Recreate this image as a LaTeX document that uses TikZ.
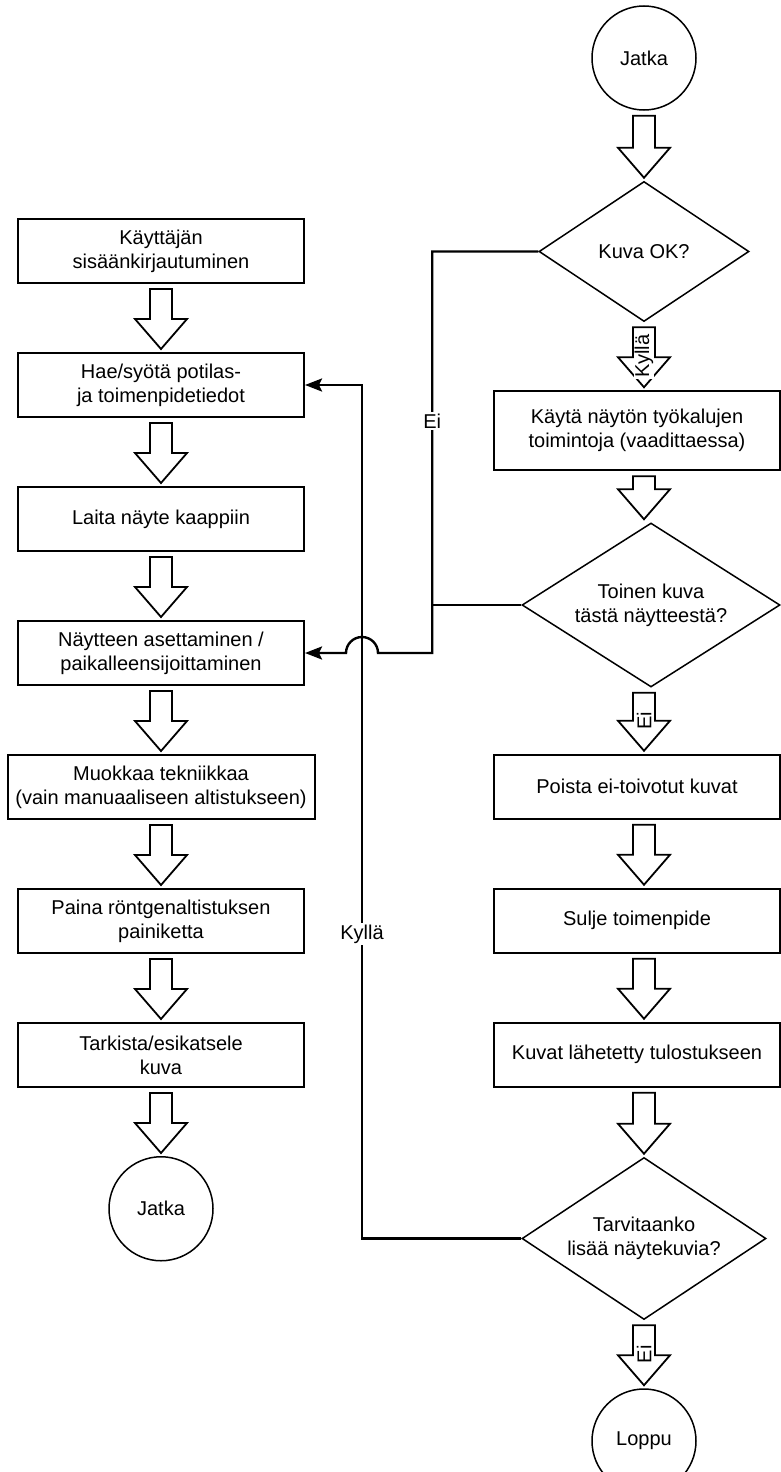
\documentclass[tikz,border=0pt]{standalone}
\usepackage{fontspec}
\setmainfont{Liberation Sans}
\usetikzlibrary{arrows.meta,positioning,calc,shapes.geometric}
\tikzset{
  stepbox/.style={draw=black, line width=2pt, align=center, inner sep=2pt, minimum width=286pt, minimum height=64pt},
  decision/.style={draw=black, diamond, line width=1.5pt, align=center, inner sep=0pt, aspect=1.5},
  terminal/.style={draw=black, circle, line width=1.5pt, minimum size=104pt, inner sep=0pt},
  flowline/.style={line width=2.4pt},
  flowarrow/.style={flowline, -{Stealth[length=17pt,width=13pt,inset=3pt]}},
  hollow/.style={draw=black, fill=white, line width=1.8pt, line join=miter},
  edgelabel/.style={fill=white, inner sep=2pt},
  arrowlabel/.style={fill=white, inner sep=1pt, rotate=90}
}
% hollow block arrow: from, to, axis, label
\newcommand{\hollowarrow}[4]{%
  \draw[hollow] ($(#1.south -| #3)+(-11,5)$) -- ($(#2.north -| #3)+(-11,-33)$)
    -- ($(#2.north -| #3)+(-26,-33)$) -- ($(#2.north -| #3)+(0,-3)$)
    -- ($(#2.north -| #3)+(26,-33)$) -- ($(#2.north -| #3)+(11,-33)$)
    -- ($(#1.south -| #3)+(11,5)$) -- cycle;
  \if\relax\detokenize{#4}\relax\else
    \node[arrowlabel] (#1-#2) at ($(#1.south -| #3)!0.5!(#2.north -| #3)$) {#4};
  \fi}

\begin{document}
\begin{tikzpicture}[x=1pt, y=-1pt, node distance=68pt, font=\fontsize{20}{24}\selectfont]
\useasboundingbox (0,0) rectangle (780,1472);
\coordinate (axisL) at (161,0);
\coordinate (axisR) at (644,0);
% left column
\node[stepbox] (login) at (161,251) {Käyttäjän\\sisäänkirjautuminen};
\node[stepbox, below=of login] (hae) {Hae/syötä potilas-\\ja toimenpidetiedot};
\node[stepbox, below=of hae] (kaappi) {Laita näyte kaappiin};
\node[stepbox, below=of kaappi] (naytteen) {Näytteen asettaminen /\\paikalleensijoittaminen};
\node[stepbox, below=of naytteen, minimum width=307pt] (muokkaa) {Muokkaa tekniikkaa\\(vain manuaaliseen altistukseen)};
\node[stepbox, below=of muokkaa] (paina) {Paina röntgenaltistuksen\\painiketta};
\node[stepbox, below=of paina] (tarkista) {Tarkista/esikatsele\\kuva};
\node[terminal, below=of tarkista] (jatkaL) {Jatka};
% right column
\node[terminal] (jatkaR) at (644,58) {Jatka};
\node[decision, below=70pt of jatkaR, minimum width=210pt, minimum height=140pt] (kuvaok) {Kuva OK?};
\node[stepbox, below=68pt of kuvaok, xshift=-7pt, minimum height=79pt] (kayta) {Käytä näytön työkalujen\\toimintoja (vaadittaessa)};
\node[decision, below=51pt of kayta, xshift=14pt, minimum width=258pt, minimum height=164pt] (toinen) {Toinen kuva\\tästä näytteestä?};
\node[stepbox, below=66pt of toinen, xshift=-14pt] (poista) {Poista ei-toivotut kuvat};
\node[stepbox, below=of poista] (sulje) {Sulje toimenpide};
\node[stepbox, below=of sulje] (kuvat) {Kuvat lähetetty tulostukseen};
\node[decision, below=69pt of kuvat, xshift=7pt, minimum width=244pt, minimum height=162pt] (tarvitaanko) {Tarvitaanko\\lisää näytekuvia?};
\node[terminal, below=of tarvitaanko] (loppu) {Loppu};

\hollowarrow{login}{hae}{axisL}{}
\hollowarrow{hae}{kaappi}{axisL}{}
\hollowarrow{kaappi}{naytteen}{axisL}{}
\hollowarrow{naytteen}{muokkaa}{axisL}{}
\hollowarrow{muokkaa}{paina}{axisL}{}
\hollowarrow{paina}{tarkista}{axisL}{}
\hollowarrow{tarkista}{jatkaL}{axisL}{}
\hollowarrow{jatkaR}{kuvaok}{axisR}{}
\hollowarrow{kuvaok}{kayta}{axisR}{Kyllä}
\hollowarrow{kayta}{toinen}{axisR}{}
\hollowarrow{toinen}{poista}{axisR}{Ei}
\hollowarrow{poista}{sulje}{axisR}{}
\hollowarrow{sulje}{kuvat}{axisR}{}
\hollowarrow{kuvat}{tarvitaanko}{axisR}{}
\hollowarrow{tarvitaanko}{loppu}{axisR}{Ei}

\coordinate (jog) at ($(naytteen.east)+(57,0)$);
\coordinate (eix) at ($(toinen.west)+(-89,0)$);
\draw[flowarrow] (tarvitaanko.west) -| node[edgelabel, pos=0.76] (kyllalbl) {Kyllä} (jog) |- (hae.east);
\draw[flowarrow] (kuvaok.west) -| node[edgelabel, pos=0.74] (eilbl) {Ei} (eix) |- ($(jog)+(16,0)$) arc[start angle=0, end angle=180, radius=16pt] -- (naytteen.east);
\draw[flowline] (toinen.west) -- (eix);
\end{tikzpicture}
\end{document}
